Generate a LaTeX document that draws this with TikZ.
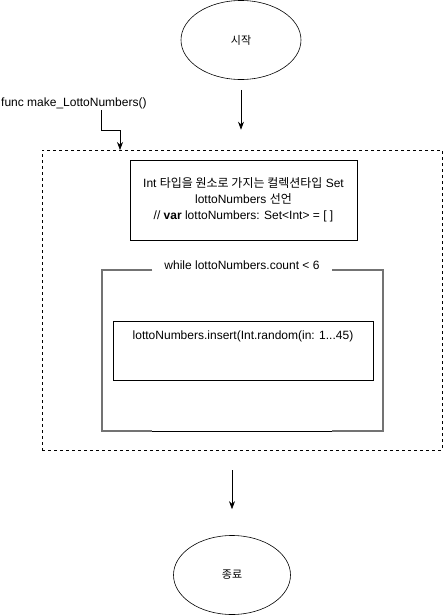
\documentclass[tikz,border=0pt]{standalone}
\usepackage{fontspec}
\setmainfont{Liberation Sans}
\newfontfamily\kofont{Noto Sans CJK KR}
\newcommand{\ko}[1]{{\kofont #1}}
\usepackage{tikz}
\usetikzlibrary{arrows.meta,positioning,calc,shapes.geometric}
\tikzset{
    every picture/.style={line join=miter},
    terminal/.style={draw=black,ellipse,line width=0.6pt,
      minimum width=120pt,minimum height=79pt,inner sep=0pt,font=\fontsize{11}{13}\selectfont},
    stmtbox/.style={draw=black,line width=0.7pt,inner sep=2pt,
      align=center,font=\fontsize{12}{16}\selectfont},
    framebox/.style={draw=black,dashed,dash pattern=on 3pt off 3pt,line width=0.6pt,
      minimum width=400pt,minimum height=300pt,inner sep=0pt},
    loopline/.style={draw=black,line width=0.7pt,double=black!55,double distance=1.3pt},
    flowarrow/.style={-{Stealth[length=8pt,width=6pt]},draw=black,line width=0.7pt},
    plaintext/.style={font=\fontsize{12}{14}\selectfont,inner sep=1pt}
}
\begin{document}
\begin{tikzpicture}[x=1pt,y=-1pt]
  \useasboundingbox (0,0) rectangle (443,616);
  % start and end
  \node[terminal] (start) at (241,40) {\ko{시작}};
  \node[terminal,minimum width=117pt] (stop) at (232,575) {\ko{종료}};
  % function frame
  \node[framebox] (frame) at (242,300) {};
  \node[plaintext,anchor=west] (funclabel) at (0,103) {func make\_LottoNumbers()};
  \coordinate (bend) at (101,130);
  \coordinate (entry) at (120,150);
  \draw[flowarrow] (funclabel.south -| bend) -- (bend) -| (entry);
  \draw[flowarrow] ($(start.south)+(0,10)$) -- ($(frame.north -| start)+(0,-20)$);
  \draw[flowarrow] ($(frame.south -| stop)+(0,20)$) -- ($(stop.north)+(0,-26)$);
  % declaration
  \node[stmtbox,minimum width=227pt,minimum height=80pt] (decl) at (243.5,200)
    {Int \ko{타입을 원소로 가지는 컬렉션타입} Set\\
     lottoNumbers \ko{선언}\\
     // \textbf{var} lottoNumbers: Set<Int> = [ ]};
  % while loop
  \node[plaintext] (cond) at (242,265) {while lottoNumbers.count < 6};
  \draw[loopline] (152,270) -- (102,270) -- (102,431) -- (152,431);
  \draw[loopline] (332,270) -- (383,270) -- (383,431) -- (332,431);
  \draw[black,line width=0.7pt] (152,431) -- (332,431);
  \node[stmtbox,minimum width=260pt,minimum height=59pt] (insert) at (243,350.5) {};
  \node[plaintext,below=9pt of insert.north] (inserttext) {lottoNumbers.insert(Int.random(in: 1...45)};
\end{tikzpicture}
\end{document}
